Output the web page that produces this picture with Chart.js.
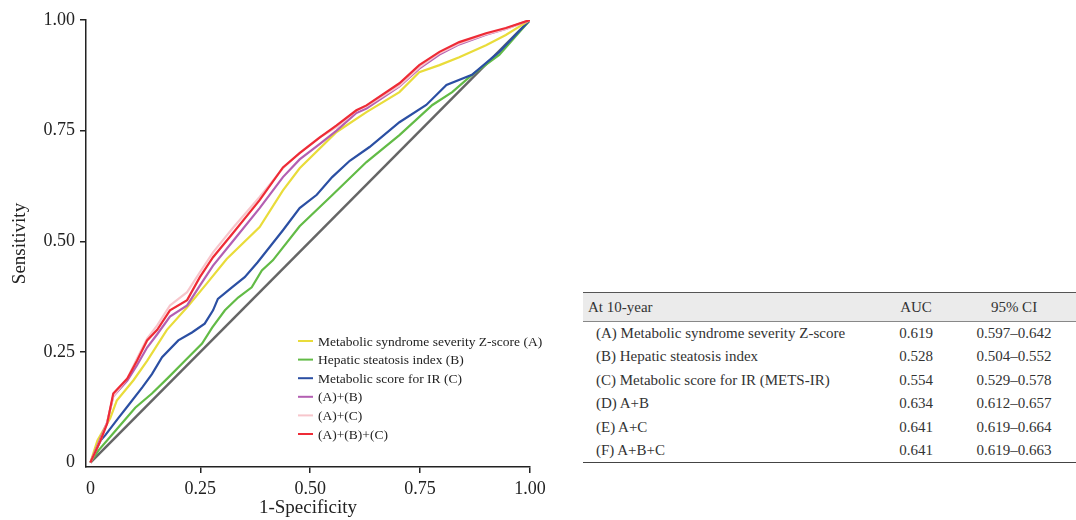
<!DOCTYPE html>
<html>
<head>
<meta charset="utf-8">
<script src="https://cdn.jsdelivr.net/npm/chart.js@4"></script>
<style>
  body { margin: 0; background: #fff; width: 1076px; height: 520px; position: relative; overflow: hidden; }
  #wrap { position: absolute; left: 0; top: 0; width: 560px; height: 520px; }
  table.auc {
    position: absolute; left: 583px; top: 292px; width: 493px;
    border-collapse: collapse; font-family: "Liberation Serif", serif; font-size: 15px; color: #333;
    border-top: 1.5px solid #555; border-bottom: 1.5px solid #444;
  }
  table.auc thead tr { background: #ebebeb; height: 29px; }
  table.auc thead th { font-weight: normal; border-bottom: 1px solid #888; }
  table.auc tbody tr { height: 23.5px; }
  table.auc td, table.auc th { padding: 0; }
  .c1 { text-align: left; }
  th.c1 { padding-left: 5px !important; }
  td.c1 { padding-left: 13px !important; }
  .c2 { text-align: center; width: 72px; }
  .c3 { text-align: center; width: 124px; }
</style>
</head>
<body>
<div id="wrap"><canvas id="roc" width="560" height="520"></canvas></div>
<table class="auc" id="aucTable">
  <thead><tr><th class="c1">At 10-year</th><th class="c2">AUC</th><th class="c3">95% CI</th></tr></thead>
  <tbody></tbody>
</table>
<script>
// axis ticks
const tickValues = [0, 0.25, 0.5, 0.75, 1];
const tickLabels = ["0", "0.25", "0.50", "0.75", "1.00"];

// (A) Metabolic syndrome severity Z-score
const fprA = [0, 0.016, 0.045, 0.06, 0.098, 0.129, 0.174, 0.22, 0.265, 0.31, 0.385, 0.438, 0.476, 0.56, 0.628, 0.703, 0.748, 0.794, 0.839, 0.9, 0.945, 1];
const tprA = [0, 0.05, 0.10, 0.14, 0.186, 0.23, 0.30, 0.351, 0.405, 0.46, 0.532, 0.615, 0.665, 0.747, 0.792, 0.837, 0.882, 0.898, 0.916, 0.943, 0.966, 1];

// (B) Hepatic steatosis index
const fprB = [0, 0.018, 0.057, 0.102, 0.14, 0.177, 0.215, 0.254, 0.277, 0.306, 0.336, 0.367, 0.39, 0.415, 0.476, 0.551, 0.628, 0.703, 0.778, 0.823, 0.868, 0.93, 1];
const tprB = [0, 0.027, 0.072, 0.124, 0.156, 0.192, 0.23, 0.269, 0.305, 0.344, 0.373, 0.396, 0.434, 0.457, 0.534, 0.605, 0.679, 0.74, 0.808, 0.837, 0.876, 0.921, 1];

// (C) Metabolic score for IR
const fprC = [0, 0.023, 0.034, 0.063, 0.086, 0.118, 0.14, 0.163, 0.2, 0.231, 0.26, 0.279, 0.29, 0.322, 0.351, 0.38, 0.438, 0.476, 0.515, 0.55, 0.59, 0.635, 0.703, 0.764, 0.81, 0.868, 0.93, 1];
const tprC = [0, 0.05, 0.062, 0.10, 0.129, 0.17, 0.2, 0.238, 0.276, 0.294, 0.314, 0.344, 0.37, 0.396, 0.419, 0.452, 0.525, 0.575, 0.605, 0.645, 0.682, 0.713, 0.769, 0.808, 0.853, 0.876, 0.928, 1];

// combined models share the same fpr grid
const fprComb = [0, 0.023, 0.038, 0.052, 0.084, 0.106, 0.129, 0.152, 0.181, 0.22, 0.249, 0.279, 0.324, 0.385, 0.438, 0.476, 0.522, 0.56, 0.605, 0.628, 0.703, 0.748, 0.794, 0.839, 0.9, 0.945, 1];
const tprAB  = [0, 0.055, 0.09, 0.15, 0.185, 0.22, 0.26, 0.29, 0.33, 0.355, 0.40, 0.445, 0.50, 0.575, 0.645, 0.685, 0.72, 0.75, 0.79, 0.80, 0.85, 0.89, 0.922, 0.945, 0.967, 0.98, 1];
const tprAC  = [0, 0.05, 0.09, 0.15, 0.19, 0.235, 0.28, 0.31, 0.355, 0.385, 0.43, 0.475, 0.53, 0.60, 0.665, 0.70, 0.735, 0.758, 0.795, 0.805, 0.852, 0.893, 0.925, 0.947, 0.968, 0.98, 1];
const tprABC = [0, 0.05, 0.088, 0.156, 0.19, 0.23, 0.276, 0.30, 0.344, 0.367, 0.419, 0.464, 0.518, 0.593, 0.667, 0.699, 0.735, 0.762, 0.796, 0.807, 0.857, 0.898, 0.928, 0.95, 0.97, 0.982, 1];

// reference diagonal
const fprRef = [0, 1];
const tprRef = [0, 1];

// table
const rowNames = ["(A) Metabolic syndrome severity Z-score", "(B) Hepatic steatosis index", "(C) Metabolic score for IR (METS-IR)", "(D) A+B", "(E) A+C", "(F) A+B+C"];
const aucValues = ["0.619", "0.528", "0.554", "0.634", "0.641", "0.641"];
const ciValues = ["0.597–0.642", "0.504–0.552", "0.529–0.578", "0.612–0.657", "0.619–0.664", "0.619–0.663"];

const tbody = document.querySelector("#aucTable tbody");
rowNames.forEach((name, i) => {
  const tr = document.createElement("tr");
  tr.innerHTML = `<td class="c1">${name}</td><td class="c2">${aucValues[i]}</td><td class="c3">${ciValues[i]}</td>`;
  tbody.appendChild(tr);
});

const pts = (xs, ys) => xs.map((x, i) => ({ x: x, y: ys[i] }));
const serif = '"Liberation Serif", "DejaVu Serif", serif';

function curve(label, xs, ys, color, order) {
  return { label, data: pts(xs, ys), borderColor: color, backgroundColor: color, borderWidth: 2.2, pointRadius: 0, tension: 0, order };
}

const datasets = [
  curve("Metabolic syndrome severity Z-score (A)", fprA, tprA, "#e9dc3a", 4),
  curve("Hepatic steatosis index (B)", fprB, tprB, "#62bb46", 6),
  curve("Metabolic score for IR (C)", fprC, tprC, "#2b4fa3", 5),
  curve("(A)+(B)", fprComb, tprAB, "#b35fb2", 3),
  curve("(A)+(C)", fprComb, tprAC, "#f7c6cc", 2),
  curve("(A)+(B)+(C)", fprComb, tprABC, "#ee2b36", 1),
  { label: "", data: pts(fprRef, tprRef), borderColor: "#666", borderWidth: 2.5, pointRadius: 0, order: 7 }
];

// legend drawn inside the plot area
const insideLegend = {
  id: "insideLegend",
  afterDatasetsDraw(chart) {
    const { ctx, chartArea } = chart;
    const x0 = chartArea.left + 212;
    const y0 = chartArea.top + 321;
    ctx.save();
    ctx.font = "13.5px " + serif;
    ctx.textBaseline = "middle";
    chart.data.datasets.forEach((ds, i) => {
      if (!ds.label) return;
      const y = y0 + i * 18.6;
      ctx.strokeStyle = ds.borderColor;
      ctx.lineWidth = 2;
      ctx.beginPath();
      ctx.moveTo(x0, y);
      ctx.lineTo(x0 + 15, y);
      ctx.stroke();
      ctx.fillStyle = "#222";
      ctx.fillText(ds.label, x0 + 20, y + 1);
    });
    ctx.restore();
  }
};

const hideZero = c => (c.tick && c.tick.value === 0 ? "rgba(0,0,0,0)" : "#222");

new Chart(document.getElementById("roc"), {
  type: "scatter",
  data: { datasets },
  options: {
    responsive: false,
    devicePixelRatio: 1,
    animation: false,
    showLine: true,
    layout: { padding: { top: 20, right: 30, left: 0, bottom: 0 } },
    plugins: { legend: { display: false }, tooltip: { enabled: false } },
    scales: {
      x: {
        type: "linear", min: -0.01, max: 1,
        afterBuildTicks: s => { s.ticks = tickValues.map(v => ({ value: v })); },
        afterFit: s => { s.height = 53; },
        ticks: { color: "#222", font: { family: serif, size: 18 }, padding: 5, maxRotation: 0,
          callback: v => tickLabels[tickValues.indexOf(v)] },
        grid: { drawOnChartArea: false, drawTicks: true, tickLength: 6, color: hideZero, lineWidth: 1.5 },
        border: { display: true, color: "#222", width: 1.5 },
        title: { display: true, text: "1-Specificity", color: "#222", font: { family: serif, size: 19 }, padding: { top: 0, bottom: 1 } }
      },
      y: {
        type: "linear", min: -0.01, max: 1,
        afterBuildTicks: s => { s.ticks = tickValues.map(v => ({ value: v })); },
        afterFit: s => { s.width = 86; },
        ticks: { color: "#222", font: { family: serif, size: 18 }, padding: 5,
          callback: v => tickLabels[tickValues.indexOf(v)] },
        grid: { drawOnChartArea: false, drawTicks: true, tickLength: 6, color: hideZero, lineWidth: 1.5 },
        border: { display: true, color: "#222", width: 1.5 },
        title: { display: true, text: "Sensitivity", color: "#222", font: { family: serif, size: 19 }, padding: { top: 9, bottom: 0 } }
      }
    }
  },
  plugins: [insideLegend]
});
</script>
</body>
</html>
